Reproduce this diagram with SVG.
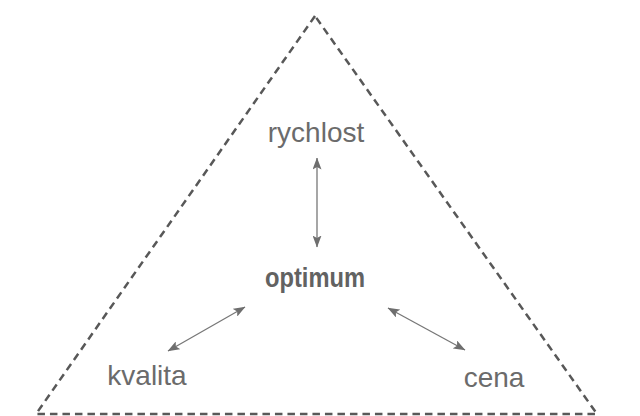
<svg xmlns="http://www.w3.org/2000/svg" width="640" height="416" viewBox="0 0 640 416">
<style>
.lbl{font-family:"Liberation Sans",Arial,sans-serif;font-size:28px;fill:#6b6b6b;text-anchor:middle}
.opt{font-family:"Liberation Sans",Arial,sans-serif;font-weight:bold;font-size:28px;fill:#626262}
.tri{fill:none;stroke:#585858;stroke-width:2.5;stroke-dasharray:7.5 5}
.arr{stroke:#777;stroke-width:1.3;fill:none;marker-start:url(#ah);marker-end:url(#ah)}
</style>
<defs>
<marker id="ah" viewBox="0 0 12 9" refX="11.5" refY="4.5" markerWidth="12" markerHeight="9" markerUnits="userSpaceOnUse" orient="auto-start-reverse">
<path d="M0,0 L12,4.5 L0,9 L2.5,4.5 Z" fill="#6e6e6e"/>
</marker>
</defs>
<rect width="640" height="416" fill="#fff"/>
<g id="frame">
<path class="tri" d="M315,16 L36,414 L597,414 Z"/>
</g>
<g id="connectors">
<line class="arr" x1="317" y1="158" x2="317" y2="247"/>
<line class="arr" x1="245" y1="307" x2="168" y2="351"/>
<line class="arr" x1="388" y1="308" x2="465" y2="350"/>
</g>
<g id="rychlost"><text class="lbl" x="316" y="142">rychlost</text></g>
<g id="optimum"><text class="opt" x="265" y="287" textLength="100" lengthAdjust="spacingAndGlyphs">optimum</text></g>
<g id="kvalita"><text class="lbl" x="147" y="385">kvalita</text></g>
<g id="cena"><text class="lbl" x="494" y="387">cena</text></g>
</svg>
